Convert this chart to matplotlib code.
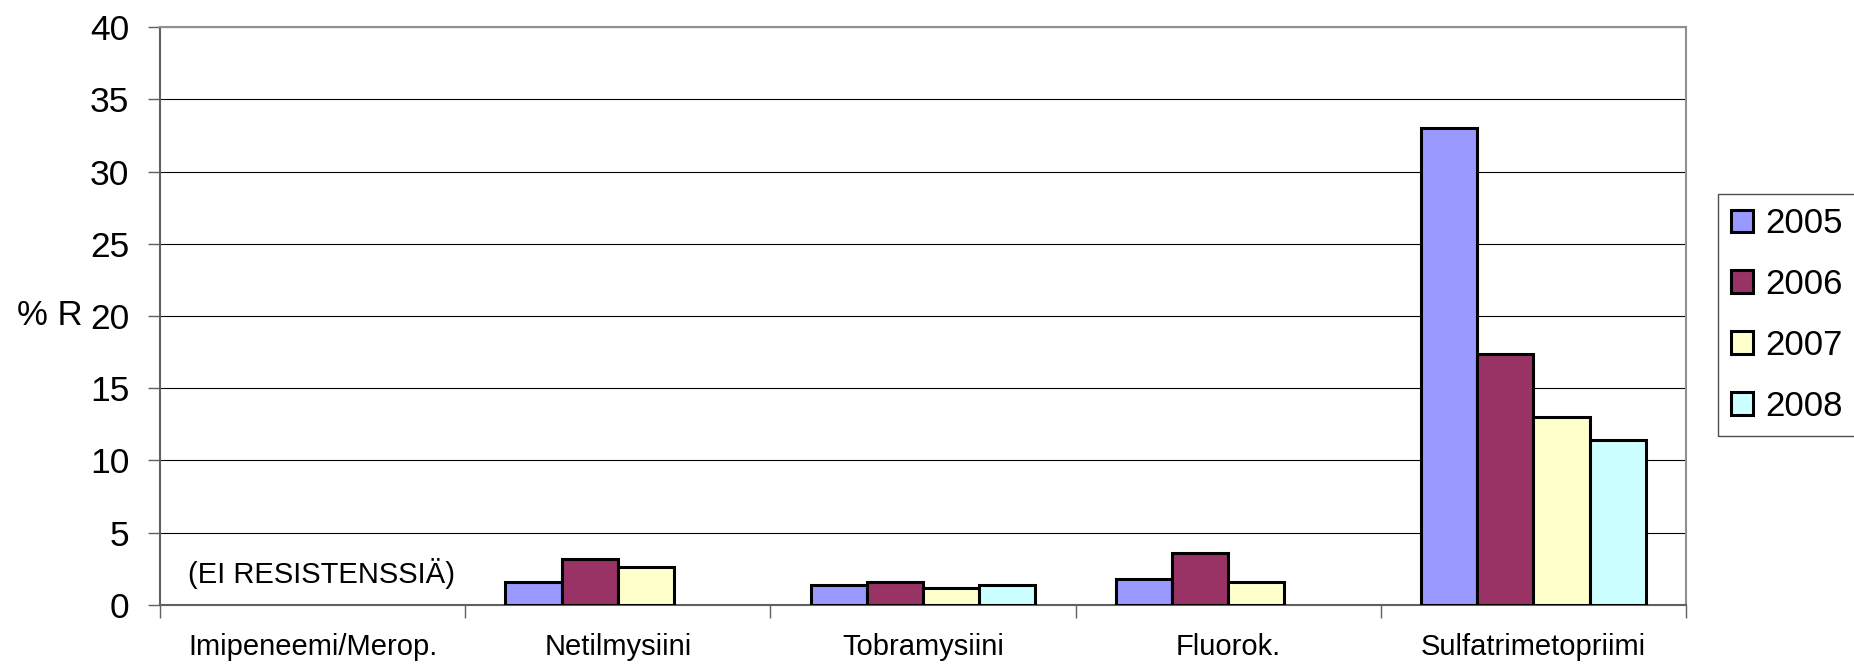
import numpy as np
import matplotlib
matplotlib.use('Agg')
import matplotlib.pyplot as plt

plt.rcParams['font.family'] = ['Liberation Sans', 'DejaVu Sans']

# data
categories = ['Imipeneemi/Merop.', 'Netilmysiini', 'Tobramysiini', 'Fluorok.', 'Sulfatrimetopriimi']
years = ['2005', '2006', '2007', '2008']
r2005 = [np.nan, 1.6, 1.35, 1.8, 33.0]
r2006 = [np.nan, 3.2, 1.6, 3.6, 17.4]
r2007 = [np.nan, 2.6, 1.15, 1.6, 13.0]
r2008 = [np.nan, np.nan, 1.35, np.nan, 11.4]
colors = ['#9999FF', '#993366', '#FFFFCC', '#CCFFFF']
note = '(EI RESISTENSSIÄ)'

fig = plt.figure(figsize=(18.54, 6.64), dpi=100)
ax = fig.add_axes([0.0863, 0.0889, 0.8231, 0.8704])

x = np.arange(len(categories))
w = 0.184
series = [r2005, r2006, r2007, r2008]
for i, vals in enumerate(series):
    ax.bar(x + (i - 1.5) * w, vals, w, color=colors[i], edgecolor='black',
           linewidth=2.2, label=years[i], zorder=3)

ax.set_xlim(-0.5, len(categories) - 0.5)
ax.set_ylim(0, 40)
ax.set_yticks(np.arange(0, 41, 5))
ax.yaxis.grid(True, color='black', linewidth=0.8, zorder=0)

ax.set_xticks(x)
ax.set_xticklabels(categories, fontsize=21)
ax.set_xticks(np.arange(-0.5, len(categories), 1), minor=True)
ax.tick_params(axis='x', which='major', length=0, pad=20)
ax.tick_params(axis='x', which='minor', length=9, width=1, color='#606060', direction='out')
ax.tick_params(axis='y', labelsize=25.5, length=9, width=1, color='#606060', pad=13)

for s in ['top', 'right']:
    ax.spines[s].set_color('#909090')
    ax.spines[s].set_linewidth(1.5)
for s in ['left', 'bottom']:
    ax.spines[s].set_color('#606060')
    ax.spines[s].set_linewidth(1.5)

ax.set_ylabel('% R', rotation=0, fontsize=25, ha='right', va='center')
ax.yaxis.set_label_coords(-0.051, 0.5)

ax.text(0.03, 2.2, note, fontsize=21, ha='center', va='center')

leg = ax.legend(loc='upper left', bbox_to_anchor=(1.021, 0.711), fontsize=25,
                frameon=True, fancybox=False, edgecolor='#222222', handlelength=0.63,
                handleheight=0.63, handletextpad=0.35, labelspacing=0.8,
                borderpad=0.38, borderaxespad=0)
leg.get_frame().set_linewidth(1)

fig.savefig('out.png', dpi=100, facecolor='white')
